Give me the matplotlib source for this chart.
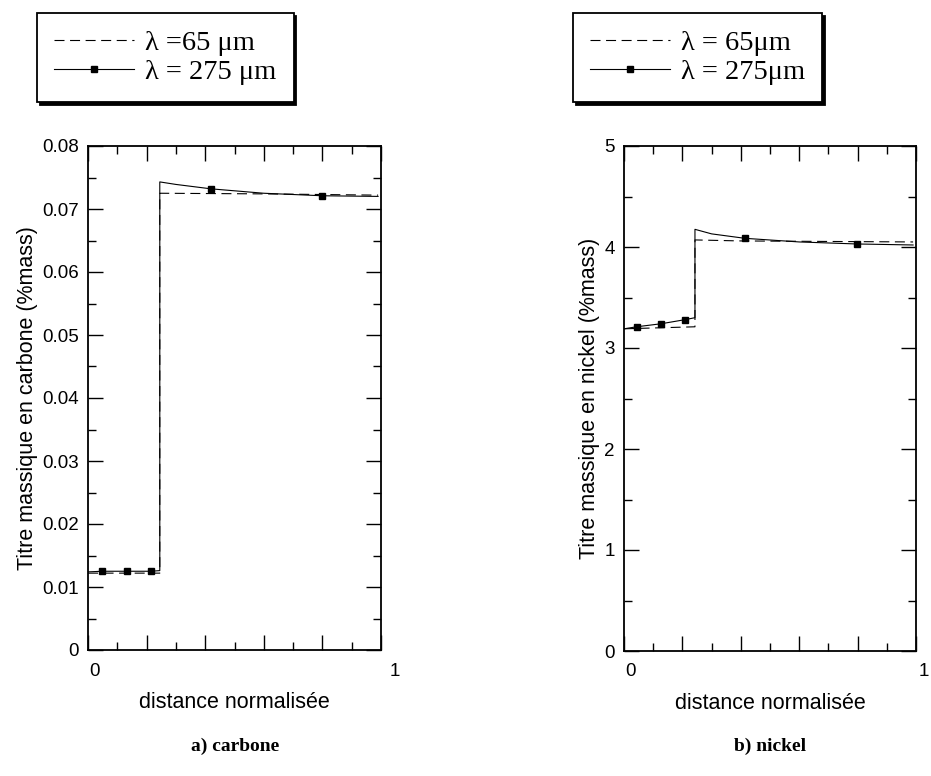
import matplotlib.pyplot as plt
import matplotlib.ticker as mticker
from matplotlib.transforms import ScaledTranslation

# carbone, lambda = 65 um (dashed)
carb_x_65 = [0.0, 0.245, 0.245, 0.6, 0.99]
carb_y_65 = [0.0122, 0.0122, 0.0725, 0.0724, 0.0722]
# carbone, lambda = 275 um (solid + markers)
carb_x_275 = [0.0, 0.048, 0.133, 0.215, 0.245, 0.245, 0.3, 0.42, 0.6, 0.8, 0.99]
carb_y_275 = [0.0124, 0.0125, 0.0125, 0.0125, 0.0126, 0.0743, 0.0739, 0.0732, 0.0725, 0.0721, 0.0720]
carb_marks = [1, 2, 3, 7, 9]

# nickel, lambda = 65 um (dashed)
nick_x_65 = [0.0, 0.243, 0.243, 0.4, 0.99]
nick_y_65 = [3.19, 3.21, 4.07, 4.06, 4.05]
# nickel, lambda = 275 um (solid + markers)
nick_x_275 = [0.0, 0.043, 0.127, 0.208, 0.243, 0.243, 0.3, 0.414, 0.6, 0.797, 0.99]
nick_y_275 = [3.19, 3.21, 3.24, 3.28, 3.30, 4.175, 4.13, 4.086, 4.05, 4.03, 4.02]
nick_marks = [1, 2, 3, 7, 9]

legend_labels_c = ['λ =65 μm', 'λ = 275 μm']
legend_labels_n = ['λ = 65μm', 'λ = 275μm']

sans = 'Liberation Sans'
serif = 'Liberation Serif'

fig = plt.figure(figsize=(9.31, 7.76), dpi=100)
ax1 = fig.add_axes([88 / 931, 1 - 650 / 776, 293 / 931, 504 / 776])
ax2 = fig.add_axes([624 / 931, 1 - 651 / 776, 292 / 931, 505 / 776])


def setup_axis(ax, ymax, ymajor, yminor, ylabel, yfmt, x1_shift):
    ax.set_xlim(0, 1)
    ax.set_ylim(0, ymax)
    ax.xaxis.set_major_locator(mticker.MultipleLocator(0.2))
    ax.xaxis.set_minor_locator(mticker.MultipleLocator(0.1))
    ax.yaxis.set_major_locator(mticker.MultipleLocator(ymajor))
    ax.yaxis.set_minor_locator(mticker.MultipleLocator(yminor))
    ax.xaxis.set_major_formatter(mticker.FuncFormatter(
        lambda v, p: '0' if abs(v) < 1e-9 else ('1' if abs(v - 1) < 1e-9 else '')))
    ax.yaxis.set_major_formatter(mticker.FuncFormatter(yfmt))
    ax.tick_params(which='both', direction='in', top=True, right=True, width=1.0)
    ax.tick_params(which='major', length=11)
    ax.tick_params(which='minor', length=5.5)
    ax.tick_params(axis='y', pad=6.5, labelsize=13.5)
    ax.tick_params(axis='x', pad=9, labelsize=13.5)
    for lab in ax.get_xticklabels() + ax.get_yticklabels():
        lab.set_family(sans)
    for s in ax.spines.values():
        s.set_linewidth(1.3)
    ax.set_xlabel('distance normalisée', family=sans, fontsize=15.5, labelpad=9)
    ax.set_ylabel(ylabel, family=sans, fontsize=15.5, labelpad=3)
    # the x tick labels sit a little to the right in the original
    fig.canvas.draw()
    for lab in ax.get_xticklabels():
        if lab.get_text() == '0':
            lab.set_transform(lab.get_transform() + ScaledTranslation(7 / 100, 0, fig.dpi_scale_trans))
        elif lab.get_text() == '1':
            lab.set_transform(lab.get_transform() + ScaledTranslation(x1_shift / 100, 0, fig.dpi_scale_trans))


def plot_pair(ax, x65, y65, x275, y275, marks):
    l1, = ax.plot(x65, y65, color='black', lw=0.8, dashes=(9, 5))
    l2, = ax.plot(x275, y275, color='black', lw=0.8, marker='s', ms=4.5,
                  markevery=marks)
    return l1, l2


h1 = plot_pair(ax1, carb_x_65, carb_y_65, carb_x_275, carb_y_275, carb_marks)
h2 = plot_pair(ax2, nick_x_65, nick_y_65, nick_x_275, nick_y_275, nick_marks)

setup_axis(ax1, 0.08, 0.01, 0.005, 'Titre massique en carbone (%mass)',
           lambda v, p: '0' if abs(v) < 1e-9 else f'{v:.2f}', 14)
setup_axis(ax2, 5, 1, 0.5, 'Titre massique en nickel (%mass)',
           lambda v, p: f'{v:.0f}', 8)

shadow = {'color': 'black', 'alpha': 1}
for handles, labels, xpos in [(h1, legend_labels_c, 37 / 931), (h2, legend_labels_n, 573 / 931)]:
    leg = fig.legend(handles, labels, loc='upper left', bbox_to_anchor=(xpos, 1 - 13 / 776),
                     prop={'family': serif, 'size': 20.5}, frameon=True, fancybox=False,
                     shadow=shadow, edgecolor='black', handlelength=2.8,
                     handletextpad=0.4, labelspacing=0.12, borderpad=0.6,
                     borderaxespad=0)
    leg.get_frame().set_linewidth(1.3)

fig.text(235 / 931, 1 - 746 / 776, 'a) carbone', family=serif, weight='bold',
         fontsize=14, ha='center', va='center')
fig.text(770 / 931, 1 - 746 / 776, 'b) nickel', family=serif, weight='bold',
         fontsize=14, ha='center', va='center')

fig.savefig('out.png', dpi=100)
